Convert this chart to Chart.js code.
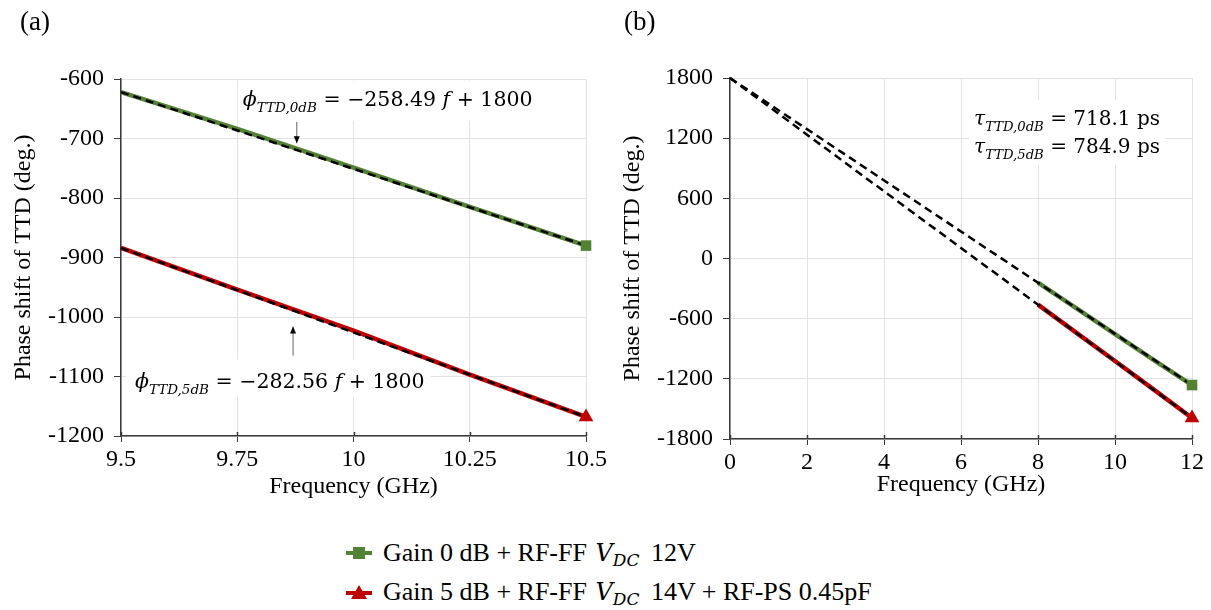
<!DOCTYPE html>
<html><head><meta charset="utf-8">
<script src="https://cdn.jsdelivr.net/npm/chart.js@4.4.0/dist/chart.umd.min.js"></script>
<style>
html,body{margin:0;padding:0;background:#fff;width:1211px;height:610px;overflow:hidden;font-family:"Liberation Serif","Times New Roman",serif;}
#wrap{position:relative;width:1211px;height:610px;}
canvas{position:absolute;top:0;}
#ca{left:0;} #cb{left:600px;}
.panel{position:absolute;font-size:27px;top:6px;color:#000;}
#legend{position:absolute;left:346px;top:533px;font-size:26px;color:#000;}
#legend .it{display:flex;align-items:center;white-space:nowrap;height:39px;line-height:39px;}
#legend svg{margin-right:11px;}
.vdc{font-family:"DejaVu Serif",serif;font-style:italic;font-size:24px;margin:0 5px 0 2px;}
.vdc sub{font-size:17px;vertical-align:-5px;line-height:0;}
</style></head><body>
<div id="wrap">
<canvas id="ca" width="610" height="520" style="width:610px;height:520px"></canvas>
<canvas id="cb" width="611" height="520" style="width:611px;height:520px"></canvas>
<div class="panel" style="left:20px">(a)</div>
<div class="panel" style="left:624px">(b)</div>
<div id="legend"></div>
</div>
<script>
// ---------- data ----------
const freqA   = [9.5, 9.75, 10, 10.25, 10.5];
const gain0A  = [-622, -684, -749, -815, -880];
const gain5A  = [-884, -954, -1023, -1097, -1168];
const fitFreqA = [9.5, 10.5];
const fit0A   = [-622, -880];
const fit5A   = [-884, -1168];
const xTicksA = [9.5, 9.75, 10, 10.25, 10.5];
const yTicksA = [-1200, -1100, -1000, -900, -800, -700, -600];

const freqB   = [8, 9, 10, 11, 12];
const gain0B  = [-240, -497, -755, -1010, -1262];
const gain5B  = [-460, -742, -1022, -1305, -1590];
const fitFreqB = [0, 12];
const fit0B   = [1800, -1262];
const fit5B   = [1800, -1590];
const xTicksB = [0, 2, 4, 6, 8, 10, 12];
const yTicksB = [-1800, -1200, -600, 0, 600, 1200, 1800];

const seriesLabels = [
  'Gain 0 dB + RF-FF <span class="vdc">V<sub>DC</sub></span> 12V',
  'Gain 5 dB + RF-FF <span class="vdc">V<sub>DC</sub></span> 14V + RF-PS 0.45pF'
];
const xTitle = 'Frequency (GHz)';
const yTitle = 'Phase shift of TTD (deg.)';

// ---------- style ----------
const GREEN = '#548235', RED = '#C00000';
const GRID = '#e2e2e2', AXIS = '#3a3a3a';
const SERIF = 'Liberation Serif';
const MATH = '"DejaVu Serif",serif';

const pts = (xs, ys) => xs.map((x, i) => ({x, y: ys[i]}));
const last = (xs, ys) => [{x: xs[xs.length - 1], y: ys[ys.length - 1]}];

function datasets(fx, g0, g5, ffx, f0, f5) {
  const dash = {borderColor: '#000', borderWidth: 2.5, borderDash: [8, 5], pointRadius: 0, order: 0, clip: false};
  const solid = {borderWidth: 4.5, pointRadius: 0, order: 2, clip: false};
  return [
    Object.assign({data: pts(fx, g0), borderColor: GREEN}, solid),
    Object.assign({data: pts(fx, g5), borderColor: RED}, solid),
    Object.assign({data: pts(ffx, f0)}, dash),
    Object.assign({data: pts(ffx, f5)}, dash),
    {data: last(fx, g0), showLine: false, pointStyle: 'rect', pointRadius: 7.5, backgroundColor: GREEN, borderWidth: 0, order: -1, clip: false},
    {data: last(fx, g5), showLine: false, pointStyle: 'triangle', pointRadius: 8.5, backgroundColor: RED, borderWidth: 0, order: -1, clip: false}
  ];
}

function drawRuns(ctx, x, y, runs, size) {
  ctx.save();
  ctx.fillStyle = '#000';
  ctx.textBaseline = 'alphabetic';
  ctx.textAlign = 'left';
  for (const r of runs) {
    const s = r.sub ? size * 0.66 : size;
    ctx.font = (r.i ? 'italic ' : '') + s + 'px ' + MATH;
    ctx.fillText(r.t, x, y + (r.sub ? size * 0.28 : 0));
    x += ctx.measureText(r.t).width;
  }
  ctx.restore();
}

function arrow(ctx, x, y0, y1) {
  ctx.save();
  ctx.strokeStyle = '#666'; ctx.lineWidth = 1;
  ctx.beginPath(); ctx.moveTo(x, y0); ctx.lineTo(x, y1); ctx.stroke();
  const d = y1 > y0 ? 1 : -1;
  ctx.fillStyle = '#000';
  ctx.beginPath(); ctx.moveTo(x, y1); ctx.lineTo(x - 3, y1 - d * 7); ctx.lineTo(x + 3, y1 - d * 7); ctx.closePath(); ctx.fill();
  ctx.restore();
}

// small inward tick marks on the x axis (ticks cross the axis line)
const crossTicks = {
  id: 'crossTicks',
  afterDraw(chart) {
    const {ctx, scales: {x}, chartArea} = chart;
    ctx.save(); ctx.strokeStyle = AXIS; ctx.lineWidth = 1.5;
    x.ticks.forEach(t => {
      const px = Math.round(x.getPixelForValue(t.value)) + 0.5;
      ctx.beginPath(); ctx.moveTo(px, chartArea.bottom); ctx.lineTo(px, chartArea.bottom - 4); ctx.stroke();
    });
    ctx.restore();
  }
};

// annotations (anchored in data units)
const notesA = {
  id: 'notesA',
  beforeDatasetsDraw(chart) {
    const {ctx, scales: {x, y}} = chart;
    const eq1 = [{t: 'ϕ', i: 1}, {t: 'TTD,0dB', i: 1, sub: 1}, {t: ' = −258.49 '}, {t: 'f', i: 1}, {t: ' + 1800'}];
    const eq2 = [{t: 'ϕ', i: 1}, {t: 'TTD,5dB', i: 1, sub: 1}, {t: ' = −282.56 '}, {t: 'f', i: 1}, {t: ' + 1800'}];
    const p1 = [x.getPixelForValue(9.762), y.getPixelForValue(-645)];
    const p2 = [x.getPixelForValue(9.530), y.getPixelForValue(-1119)];
    ctx.save(); ctx.fillStyle = '#fff';
    ctx.fillRect(p1[0] - 5, p1[1] - 25, 296, 40);
    ctx.fillRect(p2[0] - 9, p2[1] - 28, 305, 37);
    ctx.restore();
    drawRuns(ctx, p1[0], p1[1], eq1, 20.5);
    drawRuns(ctx, p2[0], p2[1], eq2, 20.5);
    arrow(ctx, x.getPixelForValue(9.878), y.getPixelForValue(-672), y.getPixelForValue(-708));
    arrow(ctx, x.getPixelForValue(9.870), y.getPixelForValue(-1065), y.getPixelForValue(-1016));
  }
};
const notesB = {
  id: 'notesB',
  beforeDatasetsDraw(chart) {
    const {ctx, scales: {x, y}} = chart;
    const t1 = [{t: 'τ', i: 1}, {t: 'TTD,0dB', i: 1, sub: 1}, {t: ' = 718.1 ps'}];
    const t2 = [{t: 'τ', i: 1}, {t: 'TTD,5dB', i: 1, sub: 1}, {t: ' = 784.9 ps'}];
    const px = x.getPixelForValue(6.34);
    const b1 = y.getPixelForValue(1330), b2 = y.getPixelForValue(1050);
    ctx.save(); ctx.fillStyle = '#fff';
    ctx.fillRect(px - 5, b1 - 25, 196, b2 - b1 + 37);
    ctx.restore();
    drawRuns(ctx, px, b1, t1, 20);
    drawRuns(ctx, px, b2, t2, 20);
  }
};

function opts(c) {
  const tickFont = {family: SERIF, size: 24};
  return {
    responsive: false, animation: false, devicePixelRatio: 1,
    layout: {padding: {left: 0, top: c.top, right: c.right, bottom: 0}},
    plugins: {legend: {display: false}, tooltip: {enabled: false}},
    scales: {
      x: {
        type: 'linear', min: c.xmin, max: c.xmax,
        afterBuildTicks: s => { s.ticks = c.xt.map(v => ({value: v})); },
        afterFit: s => { s.height = c.xh; },
        grid: {color: GRID, lineWidth: 1, tickLength: 6, tickColor: AXIS},
        border: {color: AXIS, width: 1.5},
        ticks: {font: tickFont, color: '#000', padding: 3, maxRotation: 0, autoSkip: false, callback: v => String(v)},
        title: {display: true, text: xTitle, font: tickFont, color: '#000', padding: {top: 0, bottom: c.xtpb}}
      },
      y: {
        type: 'linear', min: c.ymin, max: c.ymax,
        afterBuildTicks: s => { s.ticks = c.yt.map(v => ({value: v})); },
        afterFit: s => { s.width = c.yw; },
        grid: {color: GRID, lineWidth: 1, tickLength: 7, tickColor: AXIS},
        border: {color: AXIS, width: 1.5},
        ticks: {font: tickFont, color: '#000', padding: c.ypad, autoSkip: false, callback: v => String(v)},
        title: {display: true, text: yTitle, font: tickFont, color: '#000', padding: {top: c.ytpt, bottom: 0}}
      }
    }
  };
}

new Chart(document.getElementById('ca'), {
  type: 'line',
  data: {datasets: datasets(freqA, gain0A, gain5A, fitFreqA, fit0A, fit5A)},
  options: opts({top: 79, right: 24, xh: 84, yw: 121, xmin: 9.5, xmax: 10.5, ymin: -1200, ymax: -600,
                 xt: xTicksA, yt: yTicksA, xtpb: 19, ytpt: 9, ypad: 10}),
  plugins: [notesA, crossTicks]
});
new Chart(document.getElementById('cb'), {
  type: 'line',
  data: {datasets: datasets(freqB, gain0B, gain5B, fitFreqB, fit0B, fit5B)},
  options: opts({top: 78, right: 19, xh: 81, yw: 130, xmin: 0, xmax: 12, ymin: -1800, ymax: 1800,
                 xt: xTicksB, yt: yTicksB, xtpb: 21, ytpt: 18, ypad: 10}),
  plugins: [notesB, crossTicks]
});

// legend
const icons = [
  `<svg width="26" height="16"><line x1="0" y1="8" x2="26" y2="8" stroke="${GREEN}" stroke-width="4"/><rect x="7" y="2" width="12" height="12" fill="${GREEN}"/></svg>`,
  `<svg width="26" height="16"><line x1="0" y1="9" x2="26" y2="9" stroke="${RED}" stroke-width="4"/><polygon points="13,1 21,15 5,15" fill="${RED}"/></svg>`
];
document.getElementById('legend').innerHTML = seriesLabels.map((t, i) =>
  `<div class="it">${icons[i]}<span>${t}</span></div>`).join('');
</script>
</body></html>
